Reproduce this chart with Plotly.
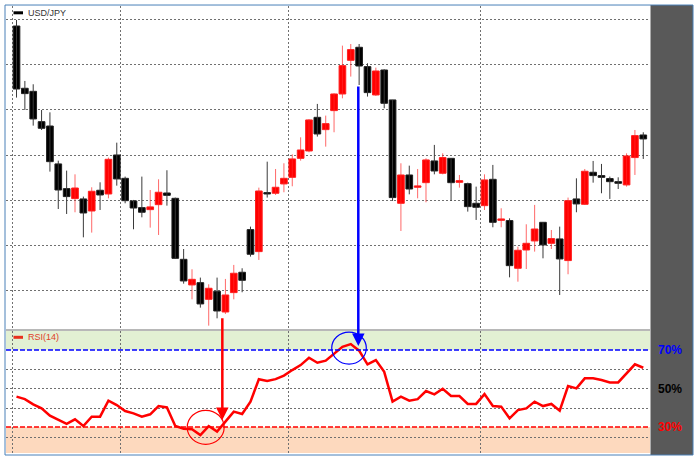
import plotly.graph_objects as go

# ---- data (USD/JPY daily candles + RSI(14)) ----
opens = [111.926, 111.238, 111.204, 110.869, 110.821, 110.402, 110.129, 110.019, 110.015, 109.882,
         110.111, 110.070, 110.501, 110.243, 109.993, 109.919, 109.897, 109.952, 110.081, 110.022,
         109.348, 109.065, 109.090, 108.906, 108.995, 108.766, 108.980, 109.205, 109.676, 109.433,
         110.085, 110.078, 110.181, 110.254, 110.464, 110.545, 110.917, 110.781, 110.991, 111.175,
         111.547, 111.691, 111.477, 111.164, 111.440, 111.109, 109.967, 110.280, 110.144, 110.195,
         110.435, 110.299, 110.464, 110.199, 110.184, 109.967, 109.941, 110.232, 109.779, 109.776,
         109.249, 109.451, 109.551, 109.757, 109.525, 109.573, 109.334, 110.015, 109.956, 110.310,
         110.273, 110.240, 110.206, 110.170, 110.472, 110.722]
highs = [111.993, 111.319, 111.282, 110.998, 110.972, 110.438, 110.328, 110.287, 110.041, 110.144,
         110.199, 110.472, 110.637, 110.262, 110.004, 110.262, 110.114, 110.232, 110.332, 110.030,
         109.462, 109.238, 109.146, 109.072, 109.146, 109.131, 109.286, 109.249, 109.709, 110.140,
         110.427, 110.346, 110.409, 110.508, 110.696, 110.895, 111.065, 110.936, 111.182, 111.709,
         111.727, 111.727, 111.514, 111.466, 111.448, 111.109, 110.409, 110.383, 110.346, 110.464,
         110.612, 110.519, 110.464, 110.280, 110.195, 110.151, 110.287, 110.391, 109.912, 109.801,
         109.488, 109.735, 109.949, 109.757, 109.672, 109.709, 110.030, 110.243, 110.346, 110.435,
         110.402, 110.262, 110.254, 110.519, 110.777, 110.752]
lows = [111.135, 110.998, 110.825, 110.777, 110.317, 109.904, 109.849, 109.868, 109.591, 109.643,
        109.893, 110.022, 110.162, 109.967, 109.680, 109.812, 109.698, 109.617, 109.941, 109.352,
        109.079, 108.906, 108.814, 108.615, 108.696, 108.744, 108.906, 108.984, 109.378, 109.341,
        110.030, 110.059, 110.089, 110.155, 110.438, 110.531, 110.704, 110.593, 110.752, 111.127,
        111.367, 111.274, 111.146, 111.153, 111.017, 109.993, 109.661, 110.066, 110.022, 109.978,
        110.287, 110.287, 109.993, 110.140, 109.875, 109.783, 109.893, 109.702, 109.702, 109.149,
        109.101, 109.241, 109.433, 109.359, 109.462, 108.954, 109.183, 109.868, 109.949, 110.195,
        110.078, 110.015, 110.125, 110.151, 110.280, 110.457]
closes = [111.230, 111.179, 110.899, 110.796, 110.427, 110.114, 110.041, 110.136, 109.860, 110.100,
          110.059, 110.453, 110.236, 109.996, 109.915, 109.868, 109.927, 110.089, 110.055, 109.359,
          109.109, 109.127, 108.855, 109.028, 108.777, 108.954, 109.194, 109.116, 109.404, 110.103,
          110.070, 110.144, 110.243, 110.457, 110.556, 110.888, 110.733, 110.847, 111.175, 111.488,
          111.665, 111.484, 111.190, 111.429, 111.072, 110.030, 110.280, 110.125, 110.159, 110.446,
          110.324, 110.472, 110.195, 110.217, 109.930, 109.923, 110.225, 109.757, 109.794, 109.278,
          109.448, 109.525, 109.683, 109.507, 109.577, 109.352, 109.996, 109.960, 110.321, 110.273,
          110.254, 110.206, 110.188, 110.490, 110.715, 110.678]
rsi = [45.8, 44.5, 41.8, 39.7, 35.9, 33.6, 31.6, 34.0, 30.5, 35.4,
       35.4, 43.7, 41.4, 38.3, 37.1, 35.4, 36.6, 40.9, 40.2, 30.5,
       29.1, 28.8, 25.8, 30.5, 27.6, 32.8, 38.0, 36.8, 43.2, 54.8,
       53.9, 54.9, 56.7, 59.6, 62.2, 66.0, 63.4, 64.5, 68.3, 71.7,
       73.1, 69.7, 62.6, 64.8, 58.7, 43.2, 45.8, 43.7, 44.5, 48.7,
       47.0, 49.9, 46.1, 46.1, 42.0, 42.0, 47.1, 40.9, 40.6, 34.5,
       38.8, 39.7, 43.2, 40.9, 42.0, 38.5, 51.3, 50.1, 55.3, 55.3,
       54.4, 53.2, 53.2, 57.9, 62.6, 60.8]
price_grid = [109.0, 109.5, 110.0, 110.5, 111.0, 111.5, 112.0]
rsi_grid = [24.6, 39.6, 49.8, 60.0]
time_grid = [-0.5, 12.5, 32.5, 55.5]
levels = [70, 50, 30]
level_labels = ["70%", "50%", "30%"]
level_colors = ["#0000FF", "#000000", "#FF0000"]

n = len(opens)
idx = list(range(n))

up = [i for i in idx if closes[i] >= opens[i]]
dn = [i for i in idx if closes[i] < opens[i]]


def wick_xy(ids):
    xs, ys = [], []
    for i in ids:
        xs += [i, i, None]
        ys += [lows[i], highs[i], None]
    return xs, ys


def body(ids):
    base = [min(opens[i], closes[i]) for i in ids]
    hgt = [max(abs(closes[i] - opens[i]), 0.012) for i in ids]
    return base, hgt


fig = go.Figure()
wx, wy = wick_xy(up)
fig.add_trace(go.Scatter(x=wx, y=wy, mode="lines", line=dict(color="rgba(255,40,40,0.7)", width=1),
                         xaxis="x", yaxis="y", hoverinfo="skip"))
wx, wy = wick_xy(dn)
fig.add_trace(go.Scatter(x=wx, y=wy, mode="lines", line=dict(color="#3a3a3a", width=1),
                         xaxis="x", yaxis="y", hoverinfo="skip"))
b, h = body(up)
fig.add_trace(go.Bar(x=up, y=h, base=b, width=0.8, marker=dict(color="#FF0000", line=dict(color="#FF2020", width=1)),
                     xaxis="x", yaxis="y"))
b, h = body(dn)
fig.add_trace(go.Bar(x=dn, y=h, base=b, width=0.8, marker=dict(color="#000000", line=dict(color="#202020", width=1)),
                     xaxis="x", yaxis="y"))
fig.add_trace(go.Scatter(x=idx, y=rsi, mode="lines", line=dict(color="#FF0000", width=2.5),
                         xaxis="x2", yaxis="y2"))

grid = dict(showgrid=True, gridcolor="#707070", gridwidth=1, griddash="2px,2px",
            showticklabels=False, ticks="", zeroline=False, showline=False)
xr = [-1.2564, 75.805]

fig.update_layout(
    width=700, height=465,
    margin=dict(l=6, r=50, t=6, b=12),
    paper_bgcolor="white", plot_bgcolor="white",
    showlegend=False, barmode="overlay", bargap=0,
    xaxis=dict(domain=[0, 1], range=xr, tickvals=time_grid, anchor="y", **grid),
    xaxis2=dict(domain=[0, 1], range=xr, tickvals=time_grid, anchor="y2", matches="x", **grid),
    yaxis=dict(domain=[0.2774, 1], range=[108.578, 112.147], tickvals=price_grid, anchor="x", **grid),
    yaxis2=dict(domain=[0, 0.2729], range=[16.5, 79.9], tickvals=rsi_grid, anchor="x2", **grid),
)

shapes = []
# overbought / oversold bands
shapes.append(dict(type="rect", xref="paper", yref="y2", x0=0, x1=1, y0=70, y1=79.9,
                   fillcolor="#E2F0D3", line=dict(width=0), layer="below"))
shapes.append(dict(type="rect", xref="paper", yref="y2", x0=0, x1=1, y0=16.5, y1=30,
                   fillcolor="#FDD9BE", line=dict(width=0), layer="below"))
# level lines
shapes.append(dict(type="line", xref="paper", yref="y2", x0=0, x1=1, y0=70, y1=70,
                   line=dict(color="#0000FF", width=1.5, dash="5px,2px")))
shapes.append(dict(type="line", xref="paper", yref="y2", x0=0, x1=1, y0=30, y1=30,
                   line=dict(color="#FF0000", width=1.3, dash="5px,2px")))
# panel separator
shapes.append(dict(type="line", xref="paper", yref="paper", x0=0, x1=1, y0=0.2752, y1=0.2752,
                   line=dict(color="#B8B8B8", width=2)))
# right dark panel
shapes.append(dict(type="rect", xref="paper", yref="paper", x0=1.0008, x1=1.0668, y0=-0.0045, y1=1.0022,
                   fillcolor="#595959", line=dict(width=0)))
# outer border
shapes.append(dict(type="rect", xref="paper", yref="paper", x0=-0.00155, x1=1.0668, y0=-0.0045, y1=1.0022,
                   line=dict(color="#4A80B8", width=1)))
# circles
shapes.append(dict(type="circle", xref="x2", yref="y2", x0=20.43, x1=24.85, y0=21.0, y1=38.7,
                   line=dict(color="#FF0000", width=1.2)))
shapes.append(dict(type="circle", xref="x2", yref="y2", x0=37.72, x1=41.86, y0=62.7, y1=79.35,
                   line=dict(color="#0000FF", width=1.2)))
# legend swatches
shapes.append(dict(type="line", xref="paper", yref="paper", x0=(13.5 - 6) / 644, x1=(23 - 6) / 644,
                   y0=(453 - 12.8) / 447, y1=(453 - 12.8) / 447, line=dict(color="#000000", width=3)))
shapes.append(dict(type="line", xref="paper", yref="paper", x0=(13.5 - 6) / 644, x1=(23 - 6) / 644,
                   y0=(453 - 337.3) / 447, y1=(453 - 337.3) / 447, line=dict(color="#E8301C", width=3)))
fig.update_layout(shapes=shapes)

ann = []
ann.append(dict(text="USD/JPY", xref="paper", yref="paper", x=(26 - 6) / 644, y=(453 - 12.5) / 447,
                xanchor="left", yanchor="middle", showarrow=False,
                font=dict(family="Liberation Sans, Arial, sans-serif", size=9, color="#333333")))
ann.append(dict(text="RSI(14)", xref="paper", yref="paper", x=(26 - 6) / 644, y=(453 - 337) / 447,
                xanchor="left", yanchor="middle", showarrow=False,
                font=dict(family="Liberation Sans, Arial, sans-serif", size=9, color="#E0402A")))
for lv, lab, col in zip(levels, level_labels, level_colors):
    ann.append(dict(text="<b>%s</b>" % lab, xref="paper", yref="y2", x=(656 - 6) / 644, y=lv,
                    xanchor="left", yanchor="middle", showarrow=False,
                    font=dict(family="Liberation Sans, Arial, sans-serif", size=12, color=col)))
# arrows
ann.append(dict(text="", x=24.63, y=33.6, xref="x2", yref="y2", ax=0, ay=-103.3, showarrow=True,
                arrowhead=2, arrowsize=1, arrowwidth=2.5, arrowcolor="#FF0000", standoff=0))
ann.append(dict(text="", x=40.9, y=72.1, xref="x2", yref="y2", ax=0, ay=-261, showarrow=True,
                arrowhead=2, arrowsize=1, arrowwidth=2.5, arrowcolor="#0000FF", standoff=0))
fig.update_layout(annotations=ann)

fig.write_html("out.html", config={"displayModeBar": False, "staticPlot": True},
               post_script="document.body.style.margin='0px';document.body.style.padding='0px';")
